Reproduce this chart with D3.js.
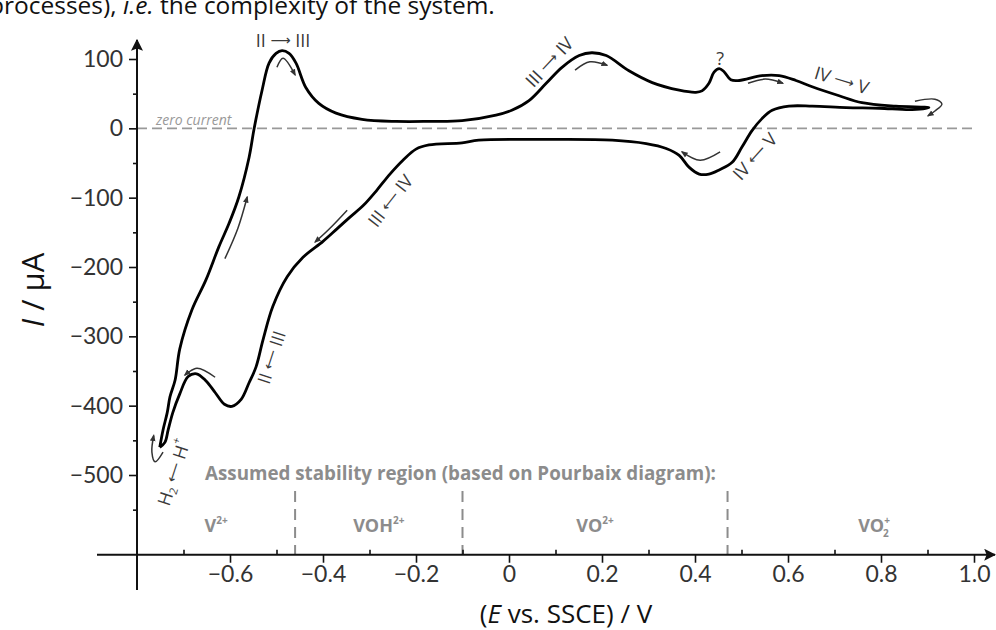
<!DOCTYPE html>
<html>
<head>
<meta charset="utf-8">
<script src="https://cdn.jsdelivr.net/npm/d3@7"></script>
<style>
body { margin: 0; background: #fff; }
svg { display: block; }
</style>
</head>
<body>
<svg id="chart" width="996" height="630"></svg>
<script>
// cyclic voltammogram, E in V vs SSCE, I in microamps
// anodic sweep (from the H2 tip up to the turning point)
var fwdE = [-0.751,-0.744,-0.735,-0.729,-0.718,-0.708,-0.682,-0.652,-0.624,-0.602,-0.581,-0.559,-0.548,-0.531,-0.516,-0.501,-0.488,-0.473,-0.458,-0.437,-0.409,-0.372,-0.316,-0.243,-0.172,-0.101,-0.028,0.006,0.043,0.080,0.114,0.151,0.178,0.209,0.258,0.308,0.366,0.402,0.415,0.430,0.441,0.452,0.462,0.477,0.495,0.544,0.581,0.617,0.652,0.710,0.759,0.832,0.903]
var fwdI = [-460,-435,-410,-387,-363,-318,-262,-219,-171,-137,-99,-42,0,55,94,108,112,108,94,59,36,22,13,10,10,11,19,26,40,65,88,105,109,105,83,66,55,52,54,65,81,86,82,70,69,76,76,69,60,47,37,32,30]
// cathodic sweep (back to the tip)
var revE = [0.867,0.796,0.725,0.652,0.602,0.566,0.544,0.523,0.501,0.480,0.452,0.430,0.409,0.387,0.366,0.338,0.295,0.222,0.080,-0.065,-0.101,-0.172,-0.200,-0.228,-0.256,-0.284,-0.313,-0.342,-0.370,-0.400,-0.443,-0.477,-0.508,-0.529,-0.544,-0.559,-0.576,-0.596,-0.612,-0.632,-0.652,-0.672,-0.690,-0.708,-0.723,-0.733,-0.740,-0.751]
var revI = [27,29,30,32,32,26,14,-3,-27,-49,-60,-66,-66,-56,-39,-29,-22,-17,-16,-17,-21,-24,-30,-46,-66,-89,-111,-128,-145,-163,-186,-214,-257,-305,-344,-367,-391,-401,-398,-381,-364,-354,-358,-383,-410,-435,-453,-460]

var xTicks = [-0.6, -0.4, -0.2, 0, 0.2, 0.4, 0.6, 0.8, 1.0]
var xTickLabels = ["\u22120.6", "\u22120.4", "\u22120.2", "0", "0.2", "0.4", "0.6", "0.8", "1.0"]
var xMinor = [-0.7, -0.5, -0.3, -0.1, 0.1, 0.3, 0.5, 0.7, 0.9]
var yTicks = [100, 0, -100, -200, -300, -400, -500]
var yTickLabels = ["100", "0", "\u2212100", "\u2212200", "\u2212300", "\u2212400", "\u2212500"]
var yMinor = [50, -50, -150, -250, -350, -450, -550]

// Pourbaix stability regions
var regionBounds = [-0.46, -0.10, 0.47]
var regionBase = ["V", "VOH", "VO", "VO"]
var regionSup = ["2+", "2+", "2+", "+"]
var regionSub = ["", "", "", "2"]

// process labels
var labelE = [-0.486, 0.086, 0.454, 0.716, 0.528, -0.256, -0.512, -0.722]
var labelI = [127, 96, 101, 70, -40, -104, -330, -496]
var labelAngle = [0, -47, 0, 17, -48, -52, -72, -72]
var labelText = ["II \u2192 III", "III \u2192 IV", "?", "IV \u2192 V", "IV \u2190 V", "III \u2190 IV", "II \u2190 III", "H2 \u2190 H+"]

// small direction arrows, one list of [E, I] per arrow
var arrowPaths = [
	[[-0.499, 88], [-0.486, 101], [-0.460, 77]],
	[[0.142, 84], [0.174, 96], [0.211, 91]],
	[[0.514, 65], [0.551, 71], [0.589, 65]],
	[[0.873, 39], [0.916, 42], [0.931, 35], [0.916, 25], [0.901, 18]],
	[[0.454, -34], [0.411, -46], [0.372, -34]],
	[[-0.348, -118], [-0.385, -144], [-0.417, -164]],
	[[-0.611, -188], [-0.583, -144], [-0.563, -99]],
	[[-0.632, -359], [-0.671, -346], [-0.697, -356]],
	[[-0.744, -467], [-0.761, -481], [-0.768, -467], [-0.764, -443]]
]

var svg = d3.select("#chart")

var x = d3.scaleLinear().domain([-0.8, 1.0]).range([137, 974])
var y = d3.scaleLinear().domain([-500, 100]).range([475, 59])
var xAxisAt = -615

var defs = svg.append("defs")
defs.append("marker")
	.attr("id", "ah")
	.attr("viewBox", "0 0 10 10")
	.attr("refX", 8).attr("refY", 5)
	.attr("markerWidth", 7).attr("markerHeight", 7)
	.attr("markerUnits", "userSpaceOnUse")
	.attr("orient", "auto")
	.append("path").attr("d", "M0,1 L10,5 L0,9 Z").attr("fill", "#333")
defs.append("marker")
	.attr("id", "axarrow")
	.attr("viewBox", "0 0 10 10")
	.attr("refX", 9).attr("refY", 5)
	.attr("markerWidth", 12).attr("markerHeight", 12)
	.attr("markerUnits", "userSpaceOnUse")
	.attr("orient", "auto")
	.append("path").attr("d", "M0,0 L10,5 L0,10 L2,5 Z").attr("fill", "#111")

// clipped text line from the page above the figure
var headText = svg.append("text")
	.attr("x", -11).attr("y", 14)
	.style("font-family", "'Open Sans', sans-serif")
	.style("font-size", "24.5px")
	.attr("fill", "#111")
headText.append("tspan").text("processes), ")
headText.append("tspan").style("font-style", "italic").text("i.e.")
headText.append("tspan").text(" the complexity of the system.")

// zero current line
svg.append("line")
	.attr("x1", x(-0.8)).attr("x2", x(1.0))
	.attr("y1", y(0)).attr("y2", y(0))
	.attr("stroke", "#999").attr("stroke-width", 1.6)
	.attr("stroke-dasharray", "10,5")
svg.append("text")
	.attr("x", x(-0.8) + 19).attr("y", y(0) - 3)
	.style("font-family", "'Open Sans', sans-serif")
	.style("font-style", "italic")
	.style("font-size", "14px")
	.attr("fill", "#999")
	.text("zero current")

// stability region block
var grey = "#8c8c8c"
svg.append("text")
	.attr("x", x(-0.8) + 68).attr("y", 480)
	.style("font-family", "'Open Sans', sans-serif")
	.style("font-weight", "bold")
	.style("font-size", "18.8px")
	.attr("fill", grey)
	.text("Assumed stability region (based on Pourbaix diagram):")

svg.selectAll(".divider")
	.data(regionBounds)
	.enter().append("line")
	.attr("class", "divider")
	.attr("x1", d => x(d)).attr("x2", d => x(d))
	.attr("y1", 491).attr("y2", y(xAxisAt))
	.attr("stroke", grey).attr("stroke-width", 2)
	.attr("stroke-dasharray", "11,7")

var edges = [-0.8].concat(regionBounds).concat([1.1])
var regionText = svg.selectAll(".region")
	.data(regionBase)
	.enter().append("text")
	.attr("class", "region")
	.attr("x", (d, i) => x((edges[i] + edges[i + 1]) / 2))
	.attr("y", 532)
	.attr("text-anchor", "middle")
	.style("font-family", "'Open Sans', sans-serif")
	.style("font-weight", "bold")
	.style("font-size", "18px")
	.attr("fill", grey)
regionText.append("tspan").text(d => d)
regionText.append("tspan")
	.attr("dy", -8)
	.style("font-size", "10px")
	.text((d, i) => regionSup[i])
regionText.filter((d, i) => regionSub[i] !== "")
	.append("tspan")
	.attr("dx", -7).attr("dy", 13)
	.style("font-size", "10px")
	.text((d, i) => "2")

// axes
svg.append("g")
	.attr("transform", "translate(0," + y(xAxisAt) + ")")
	.call(d3.axisBottom(x).tickValues(xTicks).tickFormat((d, i) => xTickLabels[i]).tickSize(8).tickPadding(3))
svg.append("g")
	.attr("transform", "translate(0," + y(xAxisAt) + ")")
	.call(d3.axisTop(x).tickValues(xMinor).tickFormat("").tickSize(5))
svg.append("g")
	.attr("transform", "translate(" + x(-0.8) + ",0)")
	.call(d3.axisLeft(y).tickValues(yTicks).tickFormat((d, i) => yTickLabels[i]).tickSize(8).tickPadding(6))
svg.append("g")
	.attr("transform", "translate(" + x(-0.8) + ",0)")
	.call(d3.axisLeft(y).tickValues(yMinor).tickFormat("").tickSize(4))

svg.selectAll(".domain").remove()
svg.selectAll(".tick line").attr("stroke", "#111").attr("stroke-width", 1.6)
svg.selectAll(".tick text")
	.style("font-family", "Lato, sans-serif")
	.style("font-size", "23px")
	.attr("fill", "#333")

svg.append("line")
	.attr("x1", 97).attr("x2", 995)
	.attr("y1", y(xAxisAt)).attr("y2", y(xAxisAt))
	.attr("stroke", "#111").attr("stroke-width", 2)
	.attr("marker-end", "url(#axarrow)")
svg.append("line")
	.attr("x1", x(-0.8)).attr("x2", x(-0.8))
	.attr("y1", 590).attr("y2", 40)
	.attr("stroke", "#111").attr("stroke-width", 2)
	.attr("marker-end", "url(#axarrow)")

// axis titles
var xt = svg.append("text")
	.attr("x", 566).attr("y", 623)
	.attr("text-anchor", "middle")
	.style("font-family", "'Liberation Sans Narrow', 'Open Sans', sans-serif")
	.style("font-size", "26px")
	.attr("fill", "#111")
xt.append("tspan").text("(")
xt.append("tspan").style("font-style", "italic").text("E")
xt.append("tspan").text(" vs. SSCE) / V")

var yt = svg.append("text")
	.attr("transform", "translate(44,290) rotate(-90)")
	.attr("text-anchor", "middle")
	.style("font-family", "'Open Sans', sans-serif")
	.style("font-size", "31px")
	.attr("fill", "#111")
yt.append("tspan").style("font-style", "italic").text("I")
yt.append("tspan").text(" / \u03bcA")

// the voltammogram
var pts = fwdE.map((e, i) => [e, fwdI[i]]).concat(revE.map((e, i) => [e, revI[i]]))
var line = d3.line()
	.x(d => x(d[0]))
	.y(d => y(d[1]))
	.curve(d3.curveCatmullRom.alpha(0.5))
svg.append("path")
	.datum(pts)
	.attr("d", line)
	.attr("fill", "none")
	.attr("stroke", "#000")
	.attr("stroke-width", 2.8)
	.attr("stroke-linejoin", "round")

// direction arrows
svg.selectAll(".dir")
	.data(arrowPaths)
	.enter().append("path")
	.attr("class", "dir")
	.attr("d", line)
	.attr("fill", "none")
	.attr("stroke", "#333")
	.attr("stroke-width", 1.5)
	.attr("marker-end", "url(#ah)")

// process labels, arrows drawn with the long arrow glyphs from DejaVu
var longArrow = { "\u2192": "\u27f6", "\u2190": "\u27f5" }
svg.selectAll(".lbl")
	.data(labelText)
	.enter().append("text")
	.attr("class", "lbl")
	.attr("transform", (d, i) => "translate(" + x(labelE[i]) + "," + y(labelI[i]) + ") rotate(" + labelAngle[i] + ")")
	.attr("text-anchor", "middle")
	.attr("dominant-baseline", "central")
	.style("font-family", "'Open Sans', sans-serif")
	.style("font-size", "18px")
	.attr("fill", "#3a3a3a")
	.each(function (d) {
		var t = d3.select(this)
		d.split(/([\u2190\u2192])/).forEach(function (part) {
			if (longArrow[part]) {
				t.append("tspan")
					.style("font-family", "'DejaVu Sans', sans-serif")
					.style("font-size", "14px")
					.text(longArrow[part])
			} else if (part.indexOf("H2") === 0) {
				t.append("tspan").text("H")
				t.append("tspan").attr("dy", 5).style("font-size", "11px").text("2")
				t.append("tspan").attr("dy", -5).text(" ")
			} else if (part === " H+") {
				t.append("tspan").text(" H")
				t.append("tspan").attr("dy", -8).style("font-size", "11px").text("+")
			} else {
				t.append("tspan").text(part)
			}
		})
	})
</script>
</body>
</html>
